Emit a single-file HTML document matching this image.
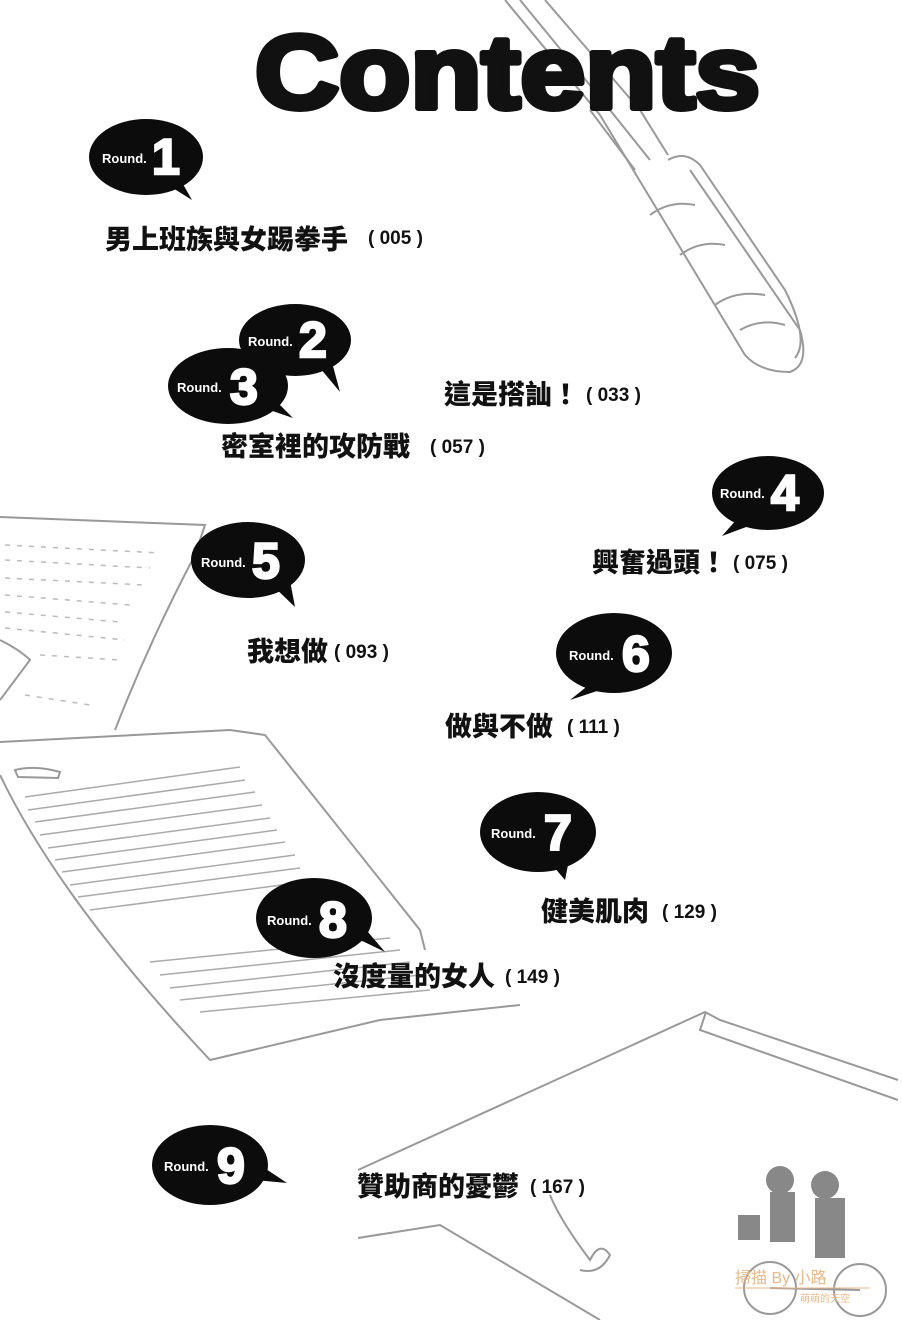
<!DOCTYPE html>
<html><head><meta charset="utf-8"><style>
html,body{margin:0;padding:0;background:#fff;}
svg{display:block;}
.t{font-family:"Liberation Sans","Noto Sans CJK TC",sans-serif;font-weight:900;fill:#111;font-size:27px;}
.n{font-family:"Liberation Sans",sans-serif;font-weight:700;fill:#111;font-size:19px;}
.r{font-family:"Liberation Sans",sans-serif;font-weight:700;fill:#fff;font-size:13px;}
.d{font-family:"Liberation Sans",sans-serif;font-weight:900;fill:#fff;font-size:50px;stroke:#fff;stroke-width:2.5;}
.s{fill:none;stroke:#999;stroke-width:2;}
</style></head><body>
<svg width="902" height="1320" viewBox="0 0 902 1320">
<!-- pen -->
<g class="s">
<path d="M505 0 L600 115 L745 355 Q760 372 790 372 Q810 365 800 330 L690 170"/>
<path d="M545 0 L640 110 L668 155"/>
<path d="M520 0 L598 95"/>
<path d="M668 160 Q685 150 700 165 L785 290 Q810 340 795 358"/>
<path d="M590 110 L635 170 M602 100 L650 160"/>
<path d="M650 215 Q670 200 695 205 M680 255 Q700 240 725 245 M715 305 Q735 290 765 295 M740 330 Q760 318 785 325"/>
</g>
<!-- papers left -->
<g class="s">
<path d="M0 517 L205 525 L195 555 Q150 640 115 730"/>
<path d="M0 640 Q20 650 30 660 L0 700"/>
<path d="M0 742 L230 730 L265 735 L420 930 L425 950"/>
<path d="M0 775 Q60 900 210 1060 L380 1020 L520 1005"/>
<path d="M15 770 Q35 765 60 772 L58 778 L18 777 Z"/>
</g>
<g stroke="#aaa" stroke-width="1.5">
<line x1="25" y1="797" x2="240" y2="767"/><line x1="28" y1="810" x2="245" y2="780"/>
<line x1="35" y1="822" x2="255" y2="792"/><line x1="40" y1="835" x2="262" y2="805"/>
<line x1="48" y1="848" x2="270" y2="818"/><line x1="55" y1="860" x2="277" y2="830"/>
<line x1="62" y1="872" x2="285" y2="842"/><line x1="70" y1="885" x2="295" y2="855"/>
<line x1="78" y1="897" x2="300" y2="868"/><line x1="90" y1="910" x2="305" y2="882"/>
<line x1="150" y1="962" x2="390" y2="938"/><line x1="160" y1="975" x2="400" y2="950"/>
<line x1="170" y1="988" x2="410" y2="962"/><line x1="180" y1="1000" x2="420" y2="975"/>
<line x1="200" y1="1012" x2="430" y2="990"/>
</g>
<g stroke="#bbb" stroke-width="1.5" stroke-dasharray="5 7">
<line x1="5" y1="545" x2="160" y2="553"/><line x1="5" y1="560" x2="150" y2="568"/>
<line x1="5" y1="578" x2="145" y2="585"/><line x1="5" y1="595" x2="130" y2="605"/>
<line x1="5" y1="612" x2="120" y2="622"/><line x1="5" y1="628" x2="125" y2="640"/>
<line x1="40" y1="655" x2="120" y2="660"/><line x1="25" y1="695" x2="90" y2="705"/>
</g>
<!-- envelope -->
<g class="s">
<path d="M358 1170 L705 1012 L720 1020 L898 1080"/>
<path d="M706 1012 L700 1030 L898 1100"/>
<path d="M358 1238 L440 1225 L600 1320"/>
<path d="M550 1195 Q560 1220 590 1260 Q600 1240 610 1255 Q600 1275 580 1270"/>
</g>
<!-- silhouette -->
<g fill="#888">
<circle cx="780" cy="1180" r="14"/><rect x="770" y="1192" width="25" height="50"/>
<circle cx="825" cy="1185" r="14"/><rect x="815" y="1198" width="30" height="60"/>
<rect x="738" y="1215" width="22" height="25"/>
</g>
<g class="s" stroke="#888"><circle cx="770" cy="1288" r="26"/><circle cx="860" cy="1290" r="26"/><line x1="770" y1="1288" x2="860" y2="1290"/></g>
<text x="735" y="1283" font-family="Liberation Sans,Noto Sans CJK TC,sans-serif" font-size="16" fill="#e8b88a">掃描 By 小路</text>
<line x1="735" y1="1288" x2="870" y2="1288" stroke="#e8b88a" stroke-width="1"/>
<text x="800" y="1302" font-family="Noto Sans CJK TC,sans-serif" font-size="10" fill="#e8b88a">萌萌的天空</text>

<!-- Contents -->
<text x="255" y="108" font-family="Liberation Sans,sans-serif" font-weight="900" font-size="104" fill="#111" textLength="505" lengthAdjust="spacingAndGlyphs" stroke="#111" stroke-width="6" stroke-linejoin="round">Contents</text>

<!-- bubbles -->
<g fill="#0c0c0c">
<ellipse cx="146" cy="157" rx="57" ry="38"/><path d="M160 180 L192 200 L175 170Z"/>
<ellipse cx="295" cy="340" rx="56" ry="36"/><path d="M315 362 L340 392 L330 355Z"/>
<ellipse cx="228" cy="386" rx="60" ry="38"/><path d="M255 405 L293 418 L270 395Z"/>
<ellipse cx="768" cy="493" rx="56" ry="37"/><path d="M745 510 L722 536 L765 520Z"/>
<ellipse cx="248" cy="560" rx="57" ry="38"/><path d="M270 583 L295 607 L288 570Z"/>
<ellipse cx="614" cy="653" rx="58" ry="40"/><path d="M595 680 L570 700 L615 685Z"/>
<ellipse cx="538" cy="832" rx="58" ry="40"/><path d="M548 860 L565 880 L570 855Z"/>
<ellipse cx="314" cy="918" rx="58" ry="40"/><path d="M350 935 L385 952 L362 925Z"/>
<ellipse cx="210" cy="1165" rx="58" ry="40"/><path d="M255 1180 L287 1183 L260 1165Z"/>
</g>
<g>
<text class="r" x="102" y="163">Round.</text><text class="d" x="152" y="174">1</text>
<text class="r" x="248" y="346">Round.</text><text class="d" x="299" y="357">2</text>
<text class="r" x="177" y="392">Round.</text><text class="d" x="230" y="404">3</text>
<text class="r" x="720" y="498">Round.</text><text class="d" x="771" y="510">4</text>
<text class="r" x="201" y="567">Round.</text><text class="d" x="252" y="578">5</text>
<text class="r" x="569" y="660">Round.</text><text class="d" x="622" y="671">6</text>
<text class="r" x="491" y="838">Round.</text><text class="d" x="544" y="850">7</text>
<text class="r" x="267" y="925">Round.</text><text class="d" x="319" y="937">8</text>
<text class="r" x="164" y="1171">Round.</text><text class="d" x="217" y="1183">9</text>
</g>

<!-- titles -->
<text class="t" x="105" y="249">男上班族與女踢拳手</text><text class="n" x="368" y="244">( 005 )</text>
<text class="t" x="444" y="404">這是搭訕！</text><text class="n" x="586" y="401">( 033 )</text>
<text class="t" x="221" y="456">密室裡的攻防戰</text><text class="n" x="430" y="453">( 057 )</text>
<text class="t" x="592" y="572">興奮過頭！</text><text class="n" x="733" y="569">( 075 )</text>
<text class="t" x="247" y="661">我想做</text><text class="n" x="334" y="658">( 093 )</text>
<text class="t" x="445" y="736">做與不做</text><text class="n" x="567" y="733">( 111 )</text>
<text class="t" x="541" y="921">健美肌肉</text><text class="n" x="662" y="918">( 129 )</text>
<text class="t" x="333" y="986">沒度量的女人</text><text class="n" x="505" y="983">( 149 )</text>
<text class="t" x="357" y="1196">贊助商的憂鬱</text><text class="n" x="530" y="1193">( 167 )</text>
</svg>
</body></html>
